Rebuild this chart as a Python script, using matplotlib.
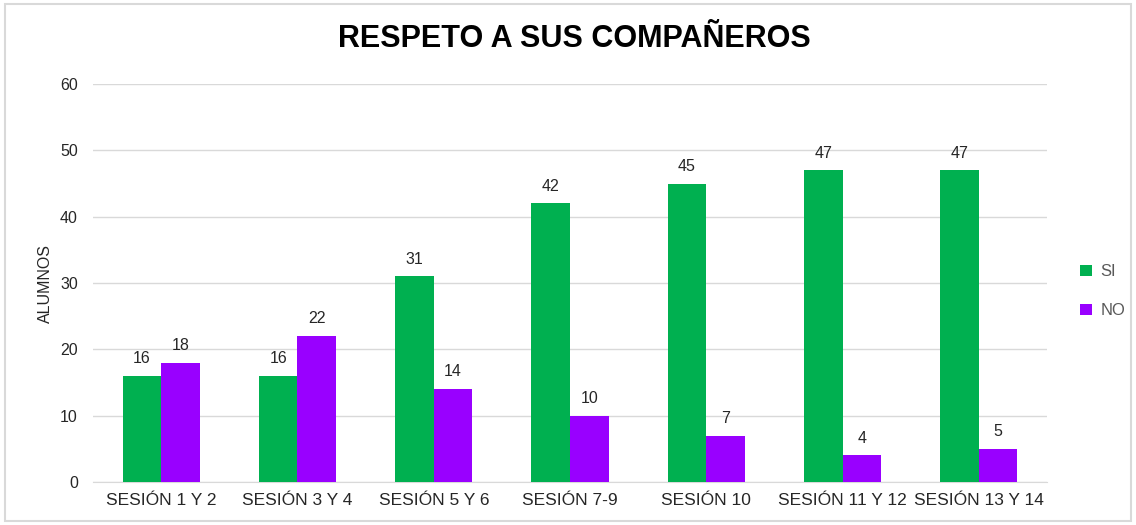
import numpy as np
import matplotlib.pyplot as plt
from matplotlib.patches import Rectangle

categories = ["SESIÓN 1 Y 2", "SESIÓN 3 Y 4", "SESIÓN 5 Y 6", "SESIÓN 7-9",
              "SESIÓN 10", "SESIÓN 11 Y 12", "SESIÓN 13 Y 14"]
si = [16, 16, 31, 42, 45, 47, 47]
no = [18, 22, 14, 10, 7, 4, 5]

plt.rcParams['font.family'] = ['Liberation Sans', 'DejaVu Sans']

fig = plt.figure(figsize=(11.36, 5.25), dpi=100)
fig.patches.append(Rectangle((0.004, 0.008), 0.992, 0.984, transform=fig.transFigure,
                             fill=False, edgecolor='#d9d9d9', lw=1.5))
ax = fig.add_axes([0.0819, 0.0819, 0.8398, 0.7581])

x = np.arange(len(categories))
w = 0.283
b1 = ax.bar(x - w/2, si, w, color='#00B050', label='SI', zorder=3)
b2 = ax.bar(x + w/2, no, w, color='#9900FF', label='NO', zorder=3)
for bars in (b1, b2):
    ax.bar_label(bars, padding=7, fontsize=11.5, color='#262626')

ax.set_xlim(-0.5, len(categories) - 0.5)
ax.set_ylim(0, 60)
ax.set_yticks(range(0, 61, 10))
ax.yaxis.grid(True, color='#d9d9d9', lw=1, zorder=0)
for s in ['top', 'right', 'left']:
    ax.spines[s].set_visible(False)
ax.spines['bottom'].set_color('#d9d9d9')
ax.tick_params(length=0, labelsize=11.5, colors='#262626')
ax.tick_params(axis='x', labelsize=12.5, pad=8)
ax.tick_params(axis='y', pad=11)
ax.set_xticks(x)
ax.set_xticklabels(categories)
ax.set_ylabel('ALUMNOS', fontsize=11.5, color='#262626', labelpad=5)

fig.text(0.506, 0.925, 'RESPETO A SUS COMPAÑEROS', ha='center', va='center',
         fontsize=22, fontweight='bold', color='black')

leg = fig.legend(loc='center left', bbox_to_anchor=(0.945, 0.445), frameon=False,
                 fontsize=12, handlelength=0.7, handleheight=0.7, handletextpad=0.5,
                 labelspacing=1.45, borderaxespad=0)
for t in leg.get_texts():
    t.set_color('#595959')

fig.savefig('out.png', dpi=100)
